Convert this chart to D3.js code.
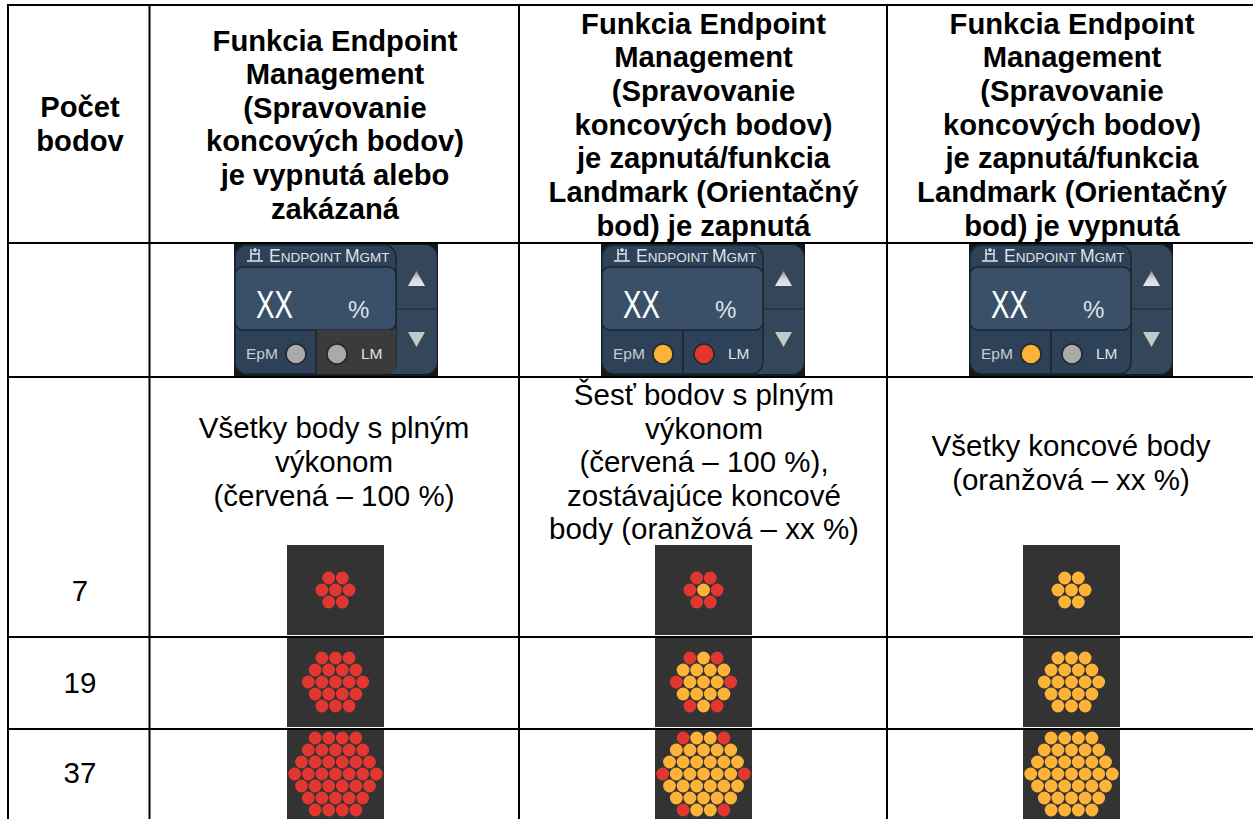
<!DOCTYPE html>
<html>
<head>
<meta charset="utf-8">
<script src="https://cdn.jsdelivr.net/npm/d3@7"></script>
<style>
html, body { margin: 0; padding: 0; background: #fff; overflow: hidden; }
text { font-family: "Liberation Sans", Arial, sans-serif; fill: #000; }
</style>
</head>
<body>
<svg id="chart"></svg>
<script>
var svg_width = 1253;
var svg_height = 819;

// table text
var header_rows = [
  ["Počet", "bodov"],
  ["Funkcia Endpoint", "Management", "(Spravovanie", "koncových bodov)", "je vypnutá alebo", "zakázaná"],
  ["Funkcia Endpoint", "Management", "(Spravovanie", "koncových bodov)", "je zapnutá/funkcia", "Landmark (Orientačný", "bod) je zapnutá"],
  ["Funkcia Endpoint", "Management", "(Spravovanie", "koncových bodov)", "je zapnutá/funkcia", "Landmark (Orientačný", "bod) je vypnutá"]
];
var description_rows = [
  ["Všetky body s plným", "výkonom", "(červená – 100 %)"],
  ["Šesť bodov s plným", "výkonom", "(červená – 100 %),", "zostávajúce koncové", "body (oranžová – xx %)"],
  ["Všetky koncové body", "(oranžová – xx %)"]
];
var point_counts = [7, 19, 37];

// panel lamps: [EpM, LM] for each column
var panel_lamps = [["off", "off"], ["amber", "red"], ["amber", "off"]];
var lm_dark = [true, false, false];

// honeycomb: how many emitters in each row
var hex_rows = {7: [2, 3, 2], 19: [3, 4, 5, 4, 3], 37: [4, 5, 6, 7, 6, 5, 4]};

// emitters at 100 % in the mixed column, "row-index"
var mixed_red = {
  7: ["0-0", "0-1", "1-0", "1-2", "2-0", "2-1"],
  19: ["0-0", "0-2", "2-0", "2-4", "4-0", "4-2"],
  37: ["0-0", "0-3", "3-0", "3-6", "6-0", "6-3"]
};

var colors = {red: "#e23631", amber: "#fdb338", off: "#aaaaaa"};

// grid lines (the last column has no right border in the picture)
var col_edges = [8, 149.5, 519, 887];
var row_edges = [5, 243, 377, 637, 729];

var svg = d3.select("#chart")
  .attr("width", svg_width)
  .attr("height", svg_height)
  .style("display", "block");

var arrow_gradient = svg.append("defs").append("linearGradient")
  .attr("id", "arrow-fill")
  .attr("x1", 0).attr("x2", 0).attr("y1", 0).attr("y2", 1);
arrow_gradient.append("stop").attr("offset", "0%").attr("stop-color", "#8d9398");
arrow_gradient.append("stop").attr("offset", "55%").attr("stop-color", "#d8dadb");
arrow_gradient.append("stop").attr("offset", "100%").attr("stop-color", "#e6e7e8");

function text_block(lines, cx, first_y, step, size, weight)  {
  svg.append("g").selectAll("text")
    .data(lines)
    .enter()
    .append("text")
    .attr("x", cx)
    .attr("y", function(d, i)  {return(first_y + i * step);})
    .attr("text-anchor", "middle")
    .attr("font-size", size)
    .attr("font-weight", weight)
    .text(function(d)  {return(d);});
}

var bold_size = 29.2;
var body_size = 29.5;

// headers
text_block(header_rows[0], 80, 116.5, 34, bold_size, "bold");
text_block(header_rows[1], 335, 50.5, 33.6, bold_size, "bold");
text_block(header_rows[2], 703.5, 33.5, 33.7, bold_size, "bold");
text_block(header_rows[3], 1072, 33.5, 33.7, bold_size, "bold");

// descriptions
text_block(description_rows[0], 334, 438, 34, body_size, "normal");
text_block(description_rows[1], 704, 405, 33.6, body_size, "normal");
text_block(description_rows[2], 1071, 456, 34, body_size, "normal");

// point counts
var count_y = d3.scaleOrdinal().domain(point_counts).range([601, 693, 783]);
svg.append("g").selectAll("text")
  .data(point_counts)
  .enter()
  .append("text")
  .attr("x", 80)
  .attr("y", function(d)  {return(count_y(d));})
  .attr("text-anchor", "middle")
  .attr("font-size", body_size)
  .text(function(d)  {return(d);});

// control panels
var panel_x = [234, 601, 969];
panel_x.forEach(function(x0, i)  {
  var g = svg.append("g").attr("transform", "translate(" + x0 + ",243)");
  var lamps = panel_lamps[i];
  g.append("rect").attr("width", 204).attr("height", 133).attr("fill", "#15181c");
  g.append("rect").attr("x", 1).attr("y", 2).attr("width", 202).attr("height", 129).attr("rx", 12).attr("fill", "#33465a");
  g.append("rect").attr("x", 1).attr("y", 2).attr("width", 161).attr("height", 129).attr("rx", 12)
    .attr("fill", "#2d4158").attr("stroke", "#1b2530").attr("stroke-width", 1.5);
  g.append("rect").attr("x", 1).attr("y", 24).attr("width", 161).attr("height", 63).attr("rx", 8)
    .attr("fill", "#3a5068").attr("stroke", "#1b2530").attr("stroke-width", 1.5);
  g.append("line").attr("x1", 162).attr("x2", 203).attr("y1", 66).attr("y2", 66).attr("stroke", "#253443").attr("stroke-width", 1.5);
  if(lm_dark[i])  {
    g.append("path").attr("d", "M82,87H162V119Q162,131 150,131H82Z").attr("fill", "#3a3b3d");
  }
  g.append("line").attr("x1", 82).attr("x2", 82).attr("y1", 87).attr("y2", 131).attr("stroke", "#1b2530").attr("stroke-width", 1.5);

  // title in small caps
  var title = g.append("text").attr("x", 35).attr("y", 19).style("fill", "#dfe3e6").attr("font-size", 17.5);
  title.append("tspan").text("E");
  title.append("tspan").attr("font-size", 13.5).text("NDPOINT ");
  title.append("tspan").text("M");
  title.append("tspan").attr("font-size", 13.5).text("GMT");
  g.append("path").attr("d", "M13,18H29M17,6V18M25,6V18M17,11H25M21,5V9M19,7H23")
    .attr("fill", "none").attr("stroke", "#dfe3e6").attr("stroke-width", 1.5);

  g.append("text").attr("x", 0).attr("y", 0).style("fill", "#fff").attr("font-size", 39)
    .attr("transform", "translate(22,75) scale(0.71,1)").text("XX");
  g.append("text").attr("x", 114).attr("y", 75).style("fill", "#dfe3e6").attr("font-size", 24).text("%");
  g.append("text").attr("x", 12).attr("y", 116).style("fill", "#c9ced3").attr("font-size", 15.5).text("EpM");
  g.append("text").attr("x", 127).attr("y", 116).style("fill", "#dfe3e6").attr("font-size", 15.5).text("LM");

  // lamps
  g.selectAll("circle")
    .data([{x: 62, s: lamps[0]}, {x: 103, s: lamps[1]}])
    .enter()
    .append("circle")
    .attr("cx", function(d)  {return(d.x);})
    .attr("cy", 111)
    .attr("r", 10)
    .attr("fill", function(d)  {return(colors[d.s]);})
    .attr("stroke", "#23262a")
    .attr("stroke-width", 1.5);

  // arrows
  g.append("path").attr("d", "M182.5,28L191,43H174Z").attr("fill", "url(#arrow-fill)");
  g.append("path").attr("d", "M182.5,104L191,89H174Z").attr("fill", "#c5c8ca");
});

// honeycomb tiles
var tile_x = [287, 655, 1023];
var tile_y = {7: 545, 19: 637, 37: 729};
var tile_w = 97;
var tile_h = 90;
var dx = 13.6;
var dy = 12;

point_counts.forEach(function(count)  {
  var rows = hex_rows[count];
  tile_x.forEach(function(x0, col)  {
    var g = svg.append("g").attr("transform", "translate(" + x0 + "," + tile_y[count] + ")");
    g.append("rect").attr("width", tile_w).attr("height", tile_h).attr("fill", "#333333");

    var points = [];
    rows.forEach(function(n, r)  {
      d3.range(n).forEach(function(k)  {
        points.push({r: r, k: k, n: n});
      });
    });

    var half_rows = (rows.length - 1) / 2;
    var y_scale = d3.scaleLinear()
      .domain([-half_rows, half_rows])
      .range([tile_h / 2 - dy * half_rows, tile_h / 2 + dy * half_rows]);
    var x_scale = d3.scaleLinear()
      .domain([-3, 3])
      .range([tile_w / 2 - 3 * dx, tile_w / 2 + 3 * dx]);

    g.selectAll("circle")
      .data(points)
      .enter()
      .append("circle")
      .attr("cx", function(d)  {return(x_scale(d.k - (d.n - 1) / 2));})
      .attr("cy", function(d)  {return(y_scale(d.r - half_rows));})
      .attr("r", 6.4)
      .attr("fill", function(d)  {
        if(col == 0) {return(colors.red);}
        if(col == 2) {return(colors.amber);}
        return(mixed_red[count].indexOf(d.r + "-" + d.k) >= 0 ? colors.red : colors.amber);
      });
  });
});

// grid drawn last so the tiles stay behind it
svg.append("g").selectAll("line")
  .data(col_edges)
  .enter()
  .append("line")
  .attr("x1", function(d)  {return(d);})
  .attr("x2", function(d)  {return(d);})
  .attr("y1", row_edges[0] - 1)
  .attr("y2", svg_height)
  .attr("stroke", "#000")
  .attr("stroke-width", 2);

svg.append("g").selectAll("line")
  .data(row_edges)
  .enter()
  .append("line")
  .attr("x1", col_edges[0] - 1)
  .attr("x2", svg_width)
  .attr("y1", function(d)  {return(d);})
  .attr("y2", function(d)  {return(d);})
  .attr("stroke", "#000")
  .attr("stroke-width", 2);
</script>
</body>
</html>
